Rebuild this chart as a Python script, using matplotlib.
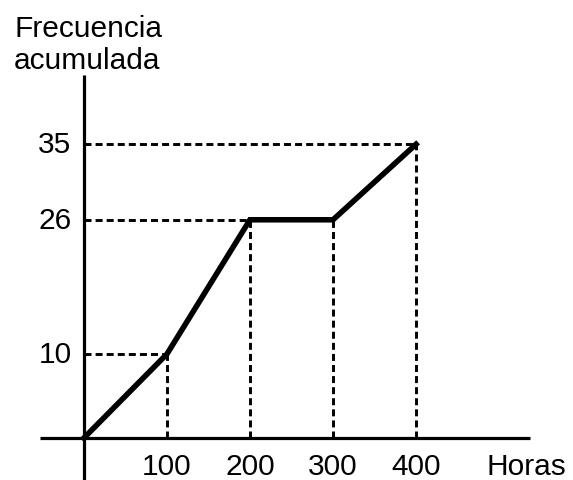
import matplotlib
matplotlib.use("Agg")
import matplotlib.pyplot as plt

horas = [0, 100, 200, 300, 400]
frecuencia = [0, 10, 26, 26, 35]
x_ticks = [100, 200, 300, 400]
y_ticks = [10, 26, 35]

plt.rcParams['font.family'] = ['Liberation Sans', 'DejaVu Sans']

fig = plt.figure(figsize=(5.73, 4.81), dpi=100)
ax = fig.add_axes([0, 0, 1, 1])
ax.set_xlim(-101, 589)
ax.set_ylim(-5, 52.3)
ax.axis('off')

# axes lines
ax.plot([-53, 537], [0, 0], color='black', lw=2.3, solid_capstyle='butt')
ax.plot([0, 0], [-5, 43.3], color='black', lw=2.3, solid_capstyle='butt')

# dashed guides
dash = (0, (2.4, 1.4))
for xv, yv in zip(horas[1:], frecuencia[1:]):
    ax.plot([xv, xv], [0, yv], color='black', lw=2.1, ls=dash)
for yv in y_ticks:
    i = frecuencia.index(yv)
    ax.plot([0, horas[i]], [yv, yv], color='black', lw=2.1, ls=dash)

# main line
ax.plot(horas, frecuencia, color='black', lw=4.0, solid_joinstyle='miter')

fs = 21.5
for xv in x_ticks:
    ax.text(xv, -3.3, str(xv), ha='center', va='center', fontsize=fs)
for yv in y_ticks:
    ax.text(-15, yv, str(yv), ha='right', va='center', fontsize=fs)
ax.text(485, -3.3, 'Horas', ha='left', va='center', fontsize=fs)
ax.text(-84, 46.9, 'Frecuencia\nacumulada', ha='left', va='center', fontsize=fs, linespacing=1.17)

fig.savefig('out.png', dpi=100)
